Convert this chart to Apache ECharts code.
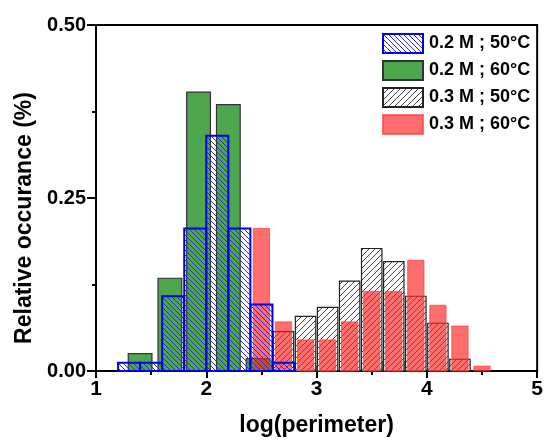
<!DOCTYPE html>
<html>
<head>
<meta charset="utf-8">
<script src="https://cdn.jsdelivr.net/npm/echarts@6/dist/echarts.min.js"></script>
<style>
html, body { margin: 0; padding: 0; background: #fff; }
#chart { width: 546px; height: 442px; }
</style>
</head>
<body>
<div id="chart"></div>
<script>
// 各组直方图数据（x 为柱中心 log(perimeter)，y 为相对出现率）
var names = ['0.2 M ; 50°C', '0.2 M ; 60°C', '0.3 M ; 50°C', '0.3 M ; 60°C'];

var blueX = [1.3, 1.5, 1.7, 1.9, 2.1, 2.3, 2.5, 2.7];
var blueY = [0.012, 0.012, 0.108, 0.206, 0.340, 0.206, 0.096, 0.012];

var greenX = [1.40, 1.67, 1.93, 2.20, 2.47, 3.00, 3.54, 3.80];
var greenY = [0.025, 0.134, 0.403, 0.385, 0.018, 0.006, 0.013, 0.013];

var greyX = [2.7, 2.9, 3.1, 3.3, 3.5, 3.7, 3.9, 4.1, 4.3];
var greyY = [0.057, 0.079, 0.092, 0.130, 0.177, 0.158, 0.108, 0.069, 0.017];

var redX = [2.5, 2.7, 2.9, 3.1, 3.3, 3.5, 3.7, 3.9, 4.1, 4.3, 4.5];
var redY = [0.206, 0.071, 0.045, 0.045, 0.071, 0.115, 0.115, 0.160, 0.095, 0.065, 0.007];

var yTicks = [0, 0.25, 0.5];

var FONT = '"Liberation Sans", Arial, sans-serif';

// 斜线填充
function hatch(size, color, bg, back) {
    var c = document.createElement('canvas');
    c.width = size; c.height = size;
    var ctx = c.getContext('2d');
    if (bg) { ctx.fillStyle = bg; ctx.fillRect(0, 0, size, size); }
    ctx.strokeStyle = color;
    ctx.lineWidth = 1;
    for (var k = -1; k <= 1; k++) {
        ctx.beginPath();
        if (back) {
            ctx.moveTo(k * size, 0);
            ctx.lineTo(k * size + size, size);
        } else {
            ctx.moveTo(k * size, size);
            ctx.lineTo(k * size + size, 0);
        }
        ctx.stroke();
    }
    return { image: c, repeat: 'repeat' };
}

function pairs(xs, ys) {
    return xs.map(function (x, i) { return [x, ys[i]]; });
}

function bars(name, xs, ys, width, style) {
    return {
        name: name,
        type: 'custom',
        itemStyle: { color: style.fill, borderColor: style.stroke, borderWidth: style.lineWidth },
        renderItem: function (params, api) {
            var x = api.value(0), y = api.value(1);
            var p0 = api.coord([x - width / 2, y]);
            var p1 = api.coord([x + width / 2, 0]);
            return {
                type: 'rect',
                shape: { x: p0[0], y: p0[1], width: p1[0] - p0[0], height: p1[1] - p0[1] },
                style: { fill: style.fill, stroke: style.stroke, lineWidth: style.lineWidth }
            };
        },
        encode: { x: 0, y: 1 },
        data: pairs(xs, ys)
    };
}

var chart = echarts.init(document.getElementById('chart'));

var option = {
    animation: false,
    backgroundColor: '#fff',
    textStyle: { fontFamily: FONT },
    grid: {
        left: 96, right: 3, top: 25, bottom: 70,
        show: true, borderColor: '#000', borderWidth: 2
    },
    legend: {
        orient: 'vertical',
        left: 382, top: 33,
        padding: 0,
        itemWidth: 40, itemHeight: 19, itemGap: 6,
        icon: 'rect',
        data: names,
        textStyle: { fontFamily: FONT, fontSize: 18, lineHeight: 19, fontWeight: 'bold', color: '#000', padding: [0, 0, 0, 1] }
    },
    xAxis: {
        type: 'value',
        min: 1, max: 5, interval: 1,
        name: 'log(perimeter)',
        nameLocation: 'middle',
        nameGap: 43,
        nameTextStyle: { fontFamily: FONT, fontSize: 23, fontWeight: 'bold', color: '#000' },
        axisLine: { show: true, lineStyle: { color: '#000', width: 2 } },
        axisTick: { show: true, length: 7, lineStyle: { color: '#000', width: 2 } },
        minorTick: { show: true, splitNumber: 2, length: 4, lineStyle: { color: '#000', width: 2 } },
        splitLine: { show: false },
        axisLabel: { margin: 8, fontSize: 21, fontWeight: 'bold', color: '#000', fontFamily: FONT }
    },
    yAxis: {
        type: 'value',
        min: yTicks[0], max: yTicks[yTicks.length - 1], interval: 0.25,
        name: 'Relative occurance (%)',
        nameLocation: 'middle',
        nameGap: 55,
        nameTextStyle: { fontFamily: FONT, fontSize: 23, fontWeight: 'bold', color: '#000', padding: [0, 40, 0, 0] },
        axisLine: { show: true, lineStyle: { color: '#000', width: 2 } },
        axisTick: { show: true, length: 9, lineStyle: { color: '#000', width: 2 } },
        minorTick: { show: true, splitNumber: 2, length: 4, lineStyle: { color: '#000', width: 2 } },
        splitLine: { show: false },
        axisLabel: {
            margin: 10, fontSize: 20, fontWeight: 'bold', color: '#000', fontFamily: FONT,
            formatter: function (v) { return v.toFixed(2); }
        }
    },
    series: [
        bars(names[1], greenX, greenY, 0.215, { fill: '#4ea64e', stroke: '#333', lineWidth: 1.2 }),
        bars(names[2], greyX, greyY, 0.185, { fill: hatch(6, '#444', '#fff', false), stroke: '#222', lineWidth: 1.2 }),
        bars(names[3], redX, redY, 0.148, { fill: 'rgba(255,30,30,0.65)', stroke: 'rgba(255,60,60,0.7)', lineWidth: 1 }),
        bars(names[0], blueX, blueY, 0.2, { fill: hatch(5, '#2a2ad8', null, true), stroke: '#0000ee', lineWidth: 2 })
    ]
};

chart.setOption(option, true);
window.addEventListener('resize', function () { chart.resize(); });
</script>
</body>
</html>
